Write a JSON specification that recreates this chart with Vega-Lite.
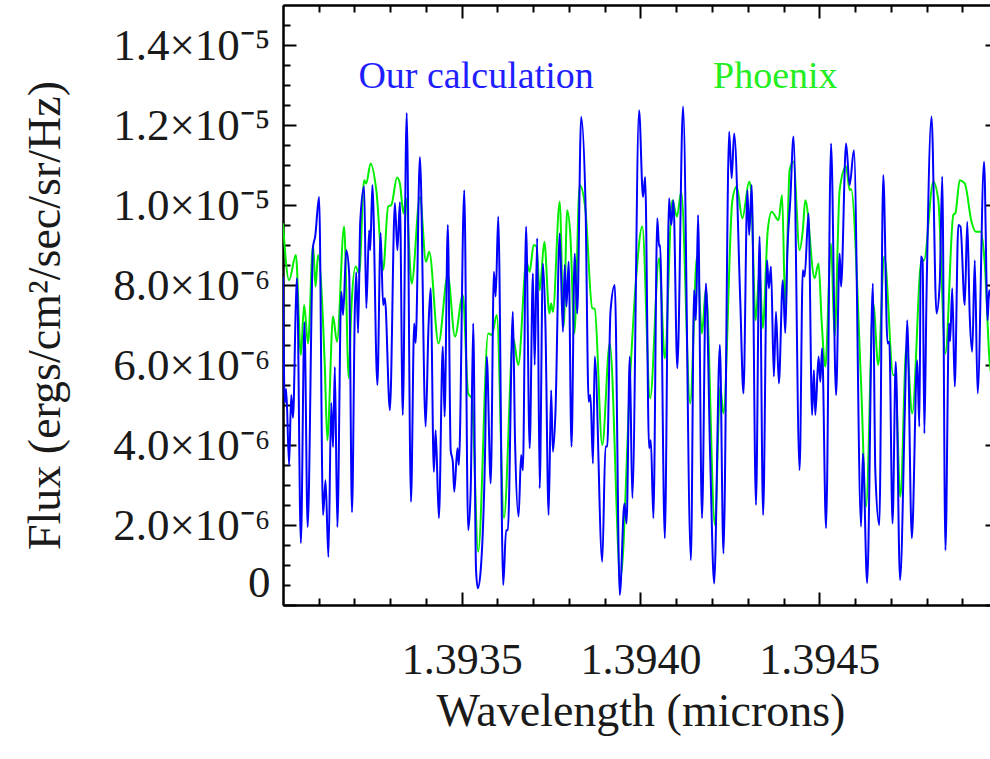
{
"$schema": "https://vega.github.io/schema/vega-lite/v6.json",
"width": 715, "height": 600,
"autosize": {"type": "none"},
"padding": {"left": 283, "top": 5, "right": 0, "bottom": 154},
"background": "white",
"config": {
  "view": {"stroke": null},
  "axis": {"domainColor": "black", "tickColor": "black", "domainWidth": 2, "tickWidth": 2, "grid": false,
    "labelColor": "#1a1a1a", "titleColor": "#1a1a1a", "labelFont": "Liberation Serif", "titleFont": "Liberation Serif", "titleFontWeight": "normal"}
},
"datasets": {
"blue": [
{"w":1.393000,"f":8.21e-6},{"w":1.393005,"f":5.05e-6},{"w":1.393009,"f":5.4e-6},{"w":1.393017,"f":3.5e-6},{"w":1.393023,"f":5.25e-6},{"w":1.393028,"f":4.68e-6},{"w":1.393036,"f":7.55e-6},{"w":1.393039,"f":8.17e-6},{"w":1.393050,"f":1.55e-6},{"w":1.393060,"f":7.07e-6},{"w":1.393069,"f":1.95e-6},{"w":1.393084,"f":8.95e-6},{"w":1.393090,"f":9.21e-6},{"w":1.393101,"f":10.2e-6},{"w":1.393112,"f":2.25e-6},{"w":1.393119,"f":3.12e-6},{"w":1.393127,"f":1.2e-6},{"w":1.393135,"f":5.05e-6},{"w":1.393140,"f":3.95e-6},{"w":1.393145,"f":5.95e-6},{"w":1.393152,"f":1.95e-6},{"w":1.393163,"f":7.83e-6},{"w":1.393168,"f":7.25e-6},{"w":1.393177,"f":8.87e-6},{"w":1.393185,"f":8.29e-6},{"w":1.393193,"f":2.32e-6},{"w":1.393201,"f":7.42e-6},{"w":1.393205,"f":8.32e-6},{"w":1.393210,"f":6.8e-6},{"w":1.393216,"f":9.57e-6},{"w":1.393227,"f":10.46e-6},{"w":1.393233,"f":7.42e-6},{"w":1.393241,"f":9.37e-6},{"w":1.393244,"f":8.87e-6},{"w":1.393250,"f":10.5e-6},{"w":1.393264,"f":5.5e-6},{"w":1.393273,"f":9.3e-6},{"w":1.393280,"f":7.5e-6},{"w":1.393285,"f":7.67e-6},{"w":1.393299,"f":4.87e-6},{"w":1.393313,"f":10.05e-6},{"w":1.393320,"f":8.87e-6},{"w":1.393327,"f":10.07e-6},{"w":1.393335,"f":4.75e-6},{"w":1.393346,"f":12.3e-6},{"w":1.393358,"f":2.58e-6},{"w":1.393367,"f":7.04e-6},{"w":1.393371,"f":6.55e-6},{"w":1.393383,"f":11.2e-6},{"w":1.393399,"f":4.46e-6},{"w":1.393407,"f":6.96e-6},{"w":1.393413,"f":7.92e-6},{"w":1.393422,"f":3.33e-6},{"w":1.393427,"f":4.37e-6},{"w":1.393436,"f":2.17e-6},{"w":1.393447,"f":6.46e-6},{"w":1.393452,"f":4.71e-6},{"w":1.393461,"f":9.5e-6},{"w":1.393469,"f":3.87e-6},{"w":1.393475,"f":3.58e-6},{"w":1.393479,"f":2.83e-6},{"w":1.393488,"f":3.92e-6},{"w":1.393492,"f":3.5e-6},{"w":1.393507,"f":10.37e-6},{"w":1.393518,"f":1.87e-6},{"w":1.393525,"f":2.87e-6},{"w":1.393532,"f":7.04e-6},{"w":1.393540,"f":0.87e-6},{"w":1.393545,"f":0.42e-6},{"w":1.393553,"f":0.87e-6},{"w":1.393565,"f":3.71e-6},{"w":1.393570,"f":6.21e-6},{"w":1.393581,"f":3.04e-6},{"w":1.393590,"f":8.33e-6},{"w":1.393595,"f":7.71e-6},{"w":1.393602,"f":9.71e-6},{"w":1.393616,"f":0.5e-6},{"w":1.393624,"f":1.87e-6},{"w":1.393629,"f":1.87e-6},{"w":1.393643,"f":7.33e-6},{"w":1.393649,"f":4.12e-6},{"w":1.393659,"f":2.21e-6},{"w":1.393666,"f":3.75e-6},{"w":1.393671,"f":3.37e-6},{"w":1.393680,"f":9.46e-6},{"w":1.393690,"f":3.92e-6},{"w":1.393699,"f":8.29e-6},{"w":1.393704,"f":6.0e-6},{"w":1.393711,"f":9.17e-6},{"w":1.393718,"f":2.92e-6},{"w":1.393727,"f":8.54e-6},{"w":1.393734,"f":7.04e-6},{"w":1.393743,"f":2.25e-6},{"w":1.393750,"f":5.37e-6},{"w":1.393755,"f":3.83e-6},{"w":1.393762,"f":4.79e-6},{"w":1.393774,"f":9.29e-6},{"w":1.393783,"f":6.83e-6},{"w":1.393788,"f":8.5e-6},{"w":1.393793,"f":7.46e-6},{"w":1.393799,"f":8.58e-6},{"w":1.393807,"f":3.96e-6},{"w":1.393816,"f":8.79e-6},{"w":1.393823,"f":7.29e-6},{"w":1.393834,"f":12.2e-6},{"w":1.393846,"f":10.1e-6},{"w":1.393855,"f":5.08e-6},{"w":1.393860,"f":5.25e-6},{"w":1.393867,"f":3.54e-6},{"w":1.393872,"f":6.21e-6},{"w":1.393893,"f":1.08e-6},{"w":1.393902,"f":3.96e-6},{"w":1.393907,"f":3.96e-6},{"w":1.393916,"f":7.33e-6},{"w":1.393928,"f":8.0e-6},{"w":1.393942,"f":0.25e-6},{"w":1.393955,"f":2.54e-6},{"w":1.393961,"f":2.04e-6},{"w":1.393970,"f":6.21e-6},{"w":1.393977,"f":2.67e-6},{"w":1.393996,"f":12.37e-6},{"w":1.394007,"f":10.2e-6},{"w":1.394013,"f":10.7e-6},{"w":1.394024,"f":3.92e-6},{"w":1.394029,"f":4.12e-6},{"w":1.394036,"f":2.17e-6},{"w":1.394047,"f":9.67e-6},{"w":1.394052,"f":8.96e-6},{"w":1.394055,"f":9.0e-6},{"w":1.394068,"f":1.67e-6},{"w":1.394080,"f":10.17e-6},{"w":1.394086,"f":9.5e-6},{"w":1.394092,"f":10.12e-6},{"w":1.394103,"f":5.92e-6},{"w":1.394119,"f":12.46e-6},{"w":1.394141,"f":1.12e-6},{"w":1.394150,"f":7.87e-6},{"w":1.394155,"f":7.12e-6},{"w":1.394161,"f":9.75e-6},{"w":1.394172,"f":2.17e-6},{"w":1.394183,"f":8.04e-6},{"w":1.394195,"f":3.67e-6},{"w":1.394206,"f":0.54e-6},{"w":1.394222,"f":6.5e-6},{"w":1.394232,"f":1.29e-6},{"w":1.394248,"f":11.83e-6},{"w":1.394255,"f":10.67e-6},{"w":1.394262,"f":11.79e-6},{"w":1.394279,"f":7.62e-6},{"w":1.394288,"f":5.29e-6},{"w":1.394299,"f":10.37e-6},{"w":1.394304,"f":9.25e-6},{"w":1.394311,"f":10.5e-6},{"w":1.394323,"f":2.5e-6},{"w":1.394333,"f":9.21e-6},{"w":1.394343,"f":2.25e-6},{"w":1.394354,"f":8.62e-6},{"w":1.394359,"f":7.92e-6},{"w":1.394365,"f":8.46e-6},{"w":1.394373,"f":5.71e-6},{"w":1.394379,"f":7.33e-6},{"w":1.394387,"f":5.54e-6},{"w":1.394398,"f":8.12e-6},{"w":1.394405,"f":6.8e-6},{"w":1.394411,"f":8.87e-6},{"w":1.394419,"f":10.12e-6},{"w":1.394428,"f":11.71e-6},{"w":1.394445,"f":3.37e-6},{"w":1.394454,"f":8.37e-6},{"w":1.394459,"f":8.21e-6},{"w":1.394470,"f":9.79e-6},{"w":1.394480,"f":4.75e-6},{"w":1.394485,"f":5.87e-6},{"w":1.394489,"f":4.75e-6},{"w":1.394498,"f":6.21e-6},{"w":1.394503,"f":5.58e-6},{"w":1.394508,"f":6.42e-6},{"w":1.394519,"f":1.92e-6},{"w":1.394533,"f":11.54e-6},{"w":1.394547,"f":5.25e-6},{"w":1.394557,"f":8.79e-6},{"w":1.394561,"f":7.96e-6},{"w":1.394575,"f":11.54e-6},{"w":1.394585,"f":10.5e-6},{"w":1.394597,"f":11.37e-6},{"w":1.394617,"f":1.96e-6},{"w":1.394622,"f":3.79e-6},{"w":1.394634,"f":0.55e-6},{"w":1.394650,"f":8.04e-6},{"w":1.394657,"f":3.29e-6},{"w":1.394668,"f":2.0e-6},{"w":1.394679,"f":10.75e-6},{"w":1.394691,"f":6.54e-6},{"w":1.394696,"f":6.58e-6},{"w":1.394705,"f":2.04e-6},{"w":1.394714,"f":6.08e-6},{"w":1.394726,"f":0.62e-6},{"w":1.394740,"f":5.08e-6},{"w":1.394746,"f":7.12e-6},{"w":1.394759,"f":1.67e-6},{"w":1.394774,"f":6.12e-6},{"w":1.394780,"f":4.46e-6},{"w":1.394784,"f":8.71e-6},{"w":1.394789,"f":8.62e-6},{"w":1.394794,"f":4.29e-6},{"w":1.394800,"f":7.71e-6},{"w":1.394814,"f":12.21e-6},{"w":1.394828,"f":7.29e-6},{"w":1.394837,"f":8.04e-6},{"w":1.394844,"f":10.71e-6},{"w":1.394853,"f":1.37e-6},{"w":1.394863,"f":7.04e-6},{"w":1.394866,"f":6.6e-6},{"w":1.394872,"f":7.92e-6},{"w":1.394879,"f":5.46e-6},{"w":1.394889,"f":9.5e-6},{"w":1.394895,"f":9.46e-6},{"w":1.394907,"f":7.5e-6},{"w":1.394914,"f":9.58e-6},{"w":1.394921,"f":7.21e-6},{"w":1.394928,"f":6.33e-6},{"w":1.394935,"f":8.62e-6},{"w":1.394943,"f":5.29e-6},{"w":1.394961,"f":11.08e-6},{"w":1.394971,"f":7.12e-6},{"w":1.394975,"f":7.87e-6},{"w":1.394989,"f":6.5e-6}
],
"green": [
{"w":1.393000,"f":9.54e-6},{"w":1.393017,"f":8.12e-6},{"w":1.393036,"f":8.75e-6},{"w":1.393050,"f":6.25e-6},{"w":1.393059,"f":7.5e-6},{"w":1.393070,"f":6.54e-6},{"w":1.393084,"f":9.0e-6},{"w":1.393091,"f":7.96e-6},{"w":1.393098,"f":8.75e-6},{"w":1.393117,"f":5.96e-6},{"w":1.393124,"f":4.12e-6},{"w":1.393140,"f":7.21e-6},{"w":1.393151,"f":6.58e-6},{"w":1.393171,"f":9.46e-6},{"w":1.393184,"f":5.67e-6},{"w":1.393191,"f":7.37e-6},{"w":1.393203,"f":8.46e-6},{"w":1.393213,"f":8.29e-6},{"w":1.393227,"f":10.62e-6},{"w":1.393233,"f":10.54e-6},{"w":1.393245,"f":11.04e-6},{"w":1.393261,"f":10.37e-6},{"w":1.393280,"f":8.37e-6},{"w":1.393294,"f":9.96e-6},{"w":1.393303,"f":10.0e-6},{"w":1.393319,"f":10.69e-6},{"w":1.393327,"f":10.54e-6},{"w":1.393337,"f":9.79e-6},{"w":1.393344,"f":10.17e-6},{"w":1.393360,"f":8.04e-6},{"w":1.393383,"f":10.2e-6},{"w":1.393400,"f":8.58e-6},{"w":1.393409,"f":8.83e-6},{"w":1.393435,"f":6.54e-6},{"w":1.393461,"f":8.25e-6},{"w":1.393481,"f":6.71e-6},{"w":1.393503,"f":7.75e-6},{"w":1.393518,"f":5.29e-6},{"w":1.393528,"f":5.17e-6},{"w":1.393546,"f":1.33e-6},{"w":1.393574,"f":6.79e-6},{"w":1.393584,"f":6.75e-6},{"w":1.393598,"f":7.25e-6},{"w":1.393618,"f":2.17e-6},{"w":1.393644,"f":6.67e-6},{"w":1.393658,"f":6.0e-6},{"w":1.393681,"f":8.58e-6},{"w":1.393690,"f":8.33e-6},{"w":1.393701,"f":9.0e-6},{"w":1.393709,"f":8.96e-6},{"w":1.393718,"f":7.87e-6},{"w":1.393731,"f":9.08e-6},{"w":1.393745,"f":7.29e-6},{"w":1.393750,"f":7.54e-6},{"w":1.393755,"f":7.33e-6},{"w":1.393774,"f":10.08e-6},{"w":1.393785,"f":6.96e-6},{"w":1.393795,"f":9.87e-6},{"w":1.393804,"f":9.21e-6},{"w":1.393815,"f":6.79e-6},{"w":1.393830,"f":10.5e-6},{"w":1.393846,"f":9.87e-6},{"w":1.393865,"f":7.42e-6},{"w":1.393872,"f":7.4e-6},{"w":1.393893,"f":4.0e-6},{"w":1.393914,"f":6.54e-6},{"w":1.393944,"f":0.67e-6},{"w":1.393972,"f":5.87e-6},{"w":1.393988,"f":8.2e-6},{"w":1.394005,"f":9.46e-6},{"w":1.394027,"f":5.17e-6},{"w":1.394052,"f":8.67e-6},{"w":1.394068,"f":6.17e-6},{"w":1.394089,"f":10.12e-6},{"w":1.394102,"f":9.71e-6},{"w":1.394114,"f":10.33e-6},{"w":1.394139,"f":5.04e-6},{"w":1.394158,"f":8.71e-6},{"w":1.394172,"f":6.79e-6},{"w":1.394183,"f":7.92e-6},{"w":1.394208,"f":2.0e-6},{"w":1.394223,"f":5.46e-6},{"w":1.394232,"f":4.79e-6},{"w":1.394257,"f":10.12e-6},{"w":1.394269,"f":10.46e-6},{"w":1.394285,"f":9.67e-6},{"w":1.394304,"f":10.58e-6},{"w":1.394309,"f":10.4e-6},{"w":1.394322,"f":7.12e-6},{"w":1.394333,"f":8.37e-6},{"w":1.394342,"f":6.92e-6},{"w":1.394356,"f":9.37e-6},{"w":1.394367,"f":9.83e-6},{"w":1.394386,"f":9.62e-6},{"w":1.394396,"f":10.25e-6},{"w":1.394405,"f":7.42e-6},{"w":1.394417,"f":10.87e-6},{"w":1.394428,"f":11.08e-6},{"w":1.394445,"f":8.87e-6},{"w":1.394454,"f":9.37e-6},{"w":1.394461,"f":10.12e-6},{"w":1.394487,"f":8.17e-6},{"w":1.394498,"f":8.54e-6},{"w":1.394507,"f":7.04e-6},{"w":1.394517,"f":5.96e-6},{"w":1.394533,"f":9.04e-6},{"w":1.394543,"f":6.71e-6},{"w":1.394557,"f":10.37e-6},{"w":1.394575,"f":10.96e-6},{"w":1.394585,"f":10.37e-6},{"w":1.394589,"f":10.4e-6},{"w":1.394617,"f":5.54e-6},{"w":1.394631,"f":2.46e-6},{"w":1.394651,"f":7.54e-6},{"w":1.394665,"f":6.0e-6},{"w":1.394682,"f":8.71e-6},{"w":1.394707,"f":5.75e-6},{"w":1.394712,"f":5.75e-6},{"w":1.394727,"f":2.71e-6},{"w":1.394744,"f":6.5e-6},{"w":1.394760,"f":4.79e-6},{"w":1.394786,"f":8.62e-6},{"w":1.394793,"f":8.62e-6},{"w":1.394819,"f":10.58e-6},{"w":1.394833,"f":10.12e-6},{"w":1.394853,"f":6.29e-6},{"w":1.394875,"f":9.75e-6},{"w":1.394881,"f":9.8e-6},{"w":1.394893,"f":10.62e-6},{"w":1.394907,"f":10.54e-6},{"w":1.394926,"f":9.58e-6},{"w":1.394938,"f":9.33e-6},{"w":1.394952,"f":9.33e-6},{"w":1.394963,"f":8.54e-6},{"w":1.394977,"f":6.04e-6},{"w":1.394989,"f":5.5e-6}
],
"labels": [{"name": "Our calculation"}, {"name": "Phoenix"}]
},
"layer": [
{
  "data": {"name": "green"},
  "mark": {"type": "line", "color": "#00ee00", "strokeWidth": 2, "interpolate": "monotone", "clip": true},
  "encoding": {
    "x": {"field": "w", "type": "quantitative", "scale": {"domain": [1.393, 1.395], "nice": false, "zero": false},
      "axis": {"orient": "top", "values": [1.3935, 1.394, 1.3945], "tickSize": -13, "labels": false, "title": null}},
    "y": {"field": "f", "type": "quantitative", "scale": {"domain": [0, 1.5e-5], "nice": false, "zero": false},
      "axis": {"orient": "right", "values": [0, 2e-6, 4e-6, 6e-6, 8e-6, 1e-5, 1.2e-5, 1.4e-5], "tickSize": -13, "labels": false, "title": null}}
  }
},
{
  "data": {"name": "blue"},
  "mark": {"type": "line", "color": "#0000ff", "strokeWidth": 2, "interpolate": "monotone", "clip": true},
  "encoding": {
    "x": {"field": "w", "type": "quantitative",
      "axis": {"orient": "bottom", "values": [1.3935, 1.394, 1.3945], "tickSize": -13, "format": ".4f", "labelFontSize": 44, "labelPadding": 46,
        "title": "Wavelength (microns)", "titleFontSize": 46, "titleX": 357.5, "titleY": 120, "titleBaseline": "alphabetic", "titleAlign": "center"}},
    "y": {"field": "f", "type": "quantitative",
      "axis": {"orient": "left", "values": [0, 2e-6, 4e-6, 6e-6, 8e-6, 1e-5, 1.2e-5, 1.4e-5], "tickSize": -13,
        "labelExpr": "datum.value == 0 ? '0' : (datum.value >= 1e-5 ? format(datum.value / 1e-5, '.1f') + '×10⁻⁵' : format(datum.value / 1e-6, '.1f') + '×10⁻⁶')",
        "labelFontSize": 45, "labelPadding": 26, "labelFlush": 1,
        "title": "Flux (ergs/cm²/sec/sr/Hz)", "titleFontSize": 46, "titleAngle": -90, "titleX": -238, "titleY": 310, "titleBaseline": "middle", "titleAlign": "center"}}
  }
},
{
  "data": {"name": "blue"},
  "mark": {"type": "line", "opacity": 0},
  "encoding": {
    "x": {"field": "w", "type": "quantitative",
      "axis": {"orient": "bottom", "values": [1.3931, 1.3932, 1.3933, 1.3934, 1.3936, 1.3937, 1.3938, 1.3939, 1.3941, 1.3942, 1.3943, 1.3944, 1.3946, 1.3947, 1.3948, 1.3949], "tickSize": -7, "labels": false, "title": null}},
    "y": {"field": "f", "type": "quantitative",
      "axis": {"orient": "left", "values": [5e-7, 1e-6, 1.5e-6, 2.5e-6, 3e-6, 3.5e-6, 4.5e-6, 5e-6, 5.5e-6, 6.5e-6, 7e-6, 7.5e-6, 8.5e-6, 9e-6, 9.5e-6, 1.05e-5, 1.1e-5, 1.15e-5, 1.25e-5, 1.3e-5, 1.35e-5, 1.45e-5], "tickSize": -7, "labels": false, "title": null}}
  }
},
{
  "data": {"name": "green"},
  "mark": {"type": "line", "opacity": 0},
  "encoding": {
    "x": {"field": "w", "type": "quantitative",
      "axis": {"orient": "top", "values": [1.3931, 1.3932, 1.3933, 1.3934, 1.3936, 1.3937, 1.3938, 1.3939, 1.3941, 1.3942, 1.3943, 1.3944, 1.3946, 1.3947, 1.3948, 1.3949], "tickSize": -7, "labels": false, "title": null}},
    "y": {"field": "f", "type": "quantitative",
      "axis": {"orient": "right", "values": [5e-7, 1e-6, 1.5e-6, 2.5e-6, 3e-6, 3.5e-6, 4.5e-6, 5e-6, 5.5e-6, 6.5e-6, 7e-6, 7.5e-6, 8.5e-6, 9e-6, 9.5e-6, 1.05e-5, 1.1e-5, 1.15e-5, 1.25e-5, 1.3e-5, 1.35e-5, 1.45e-5], "tickSize": -7, "labels": false, "title": null}}
  }
},
{
  "data": {"name": "labels"},
  "transform": [{"filter": "datum.name == 'Our calculation'"}],
  "mark": {"type": "text", "font": "Liberation Serif", "fontSize": 38, "color": "#1e1eff", "baseline": "alphabetic", "align": "center"},
  "encoding": {
    "x": {"datum": 1.39354, "type": "quantitative", "axis": null},
    "y": {"datum": 1.293e-5, "type": "quantitative", "axis": null},
    "text": {"field": "name"}
  }
},
{
  "data": {"name": "labels"},
  "transform": [{"filter": "datum.name == 'Phoenix'"}],
  "mark": {"type": "text", "font": "Liberation Serif", "fontSize": 38, "color": "#22ee22", "baseline": "alphabetic", "align": "center"},
  "encoding": {
    "x": {"datum": 1.394377, "type": "quantitative", "axis": null},
    "y": {"datum": 1.293e-5, "type": "quantitative", "axis": null},
    "text": {"field": "name"}
  }
}
],
"resolve": {"axis": {"x": "independent", "y": "independent"}}
}
